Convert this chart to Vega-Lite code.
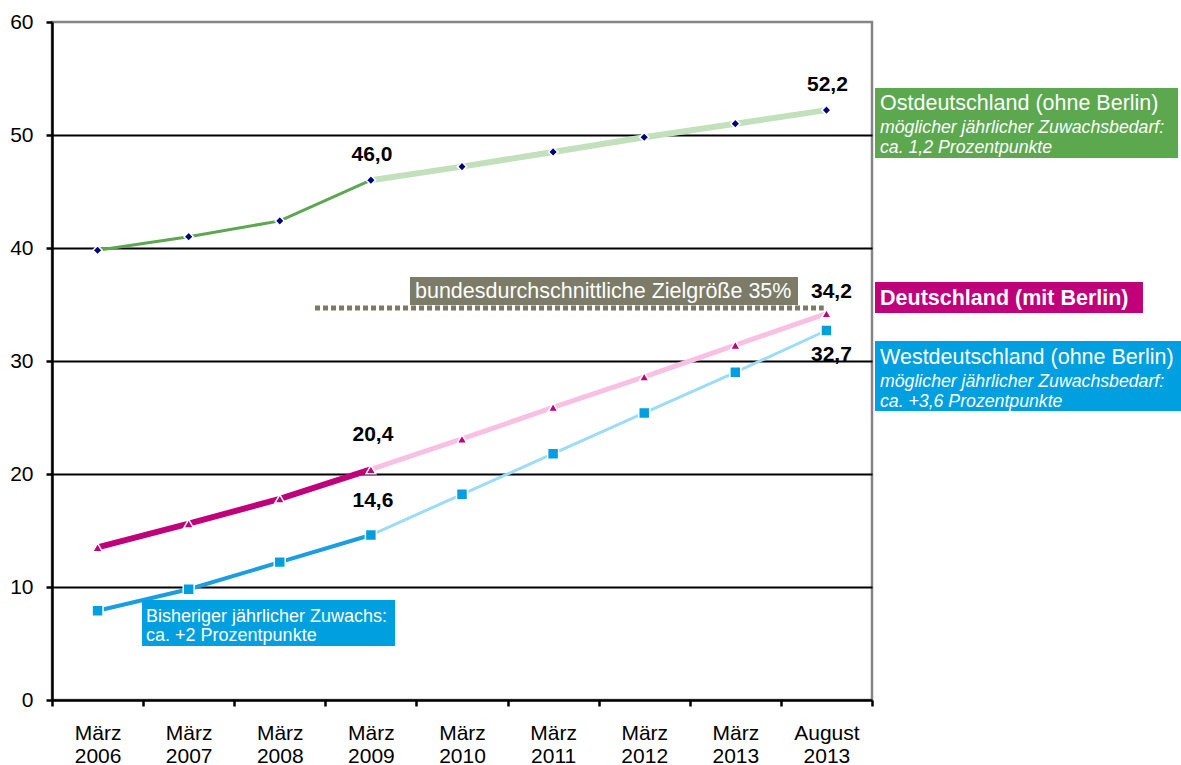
{
  "$schema": "https://vega.github.io/schema/vega-lite/v6.json",
  "width": 820,
  "height": 678,
  "autosize": {"type": "none"},
  "padding": {"left": 52, "top": 22, "right": 309, "bottom": 65},
  "background": "white",
  "config": {
    "font": "Liberation Sans",
    "view": {"stroke": "#858585", "strokeWidth": 2.5},
    "axis": {
      "domainColor": "black", "domainWidth": 2.5,
      "tickColor": "black", "tickWidth": 2.5, "tickSize": 6,
      "labelFont": "Liberation Sans", "labelFontSize": 21, "labelColor": "black",
      "gridColor": "black", "gridWidth": 2, "title": null
    }
  },
  "datasets": {
    "series": [
      {"s": "Ost", "i": 0, "v": 39.8},
      {"s": "Ost", "i": 1, "v": 41.0},
      {"s": "Ost", "i": 2, "v": 42.4},
      {"s": "Ost", "i": 3, "v": 46.0, "lab": "46,0"},
      {"s": "Ost", "i": 4, "v": 47.2},
      {"s": "Ost", "i": 5, "v": 48.5},
      {"s": "Ost", "i": 6, "v": 49.8},
      {"s": "Ost", "i": 7, "v": 51.0},
      {"s": "Ost", "i": 8, "v": 52.2, "lab": "52,2"},
      {"s": "DE", "i": 0, "v": 13.5},
      {"s": "DE", "i": 1, "v": 15.6},
      {"s": "DE", "i": 2, "v": 17.8},
      {"s": "DE", "i": 3, "v": 20.4, "lab": "20,4"},
      {"s": "DE", "i": 4, "v": 23.1},
      {"s": "DE", "i": 5, "v": 25.9},
      {"s": "DE", "i": 6, "v": 28.6},
      {"s": "DE", "i": 7, "v": 31.4},
      {"s": "DE", "i": 8, "v": 34.2, "lab": "34,2"},
      {"s": "West", "i": 0, "v": 7.9},
      {"s": "West", "i": 1, "v": 9.8},
      {"s": "West", "i": 2, "v": 12.2},
      {"s": "West", "i": 3, "v": 14.6, "lab": "14,6"},
      {"s": "West", "i": 4, "v": 18.2},
      {"s": "West", "i": 5, "v": 21.8},
      {"s": "West", "i": 6, "v": 25.4},
      {"s": "West", "i": 7, "v": 29.0},
      {"s": "West", "i": 8, "v": 32.7, "lab": "32,7"}
    ],
    "boxes": [
      {"k": "ost", "x": 8.533, "x2": 11.859, "y": 54.16, "y2": 47.96},
      {"k": "de", "x": 8.533, "x2": 11.474, "y": 36.99, "y2": 34.25},
      {"k": "west", "x": 8.533, "x2": 11.892, "y": 31.77, "y2": 25.58},
      {"k": "ziel", "x": 3.429, "x2": 7.688, "y": 37.43, "y2": 34.96},
      {"k": "inner", "x": 0.488, "x2": 3.265, "y": 8.85, "y2": 4.78}
    ],
    "notes": [
      {"g": "title", "x": 8.588, "y": 52.7, "t": "Ostdeutschland (ohne Berlin)"},
      {"g": "sub", "x": 8.588, "y": 50.62, "t": "möglicher jährlicher Zuwachsbedarf:"},
      {"g": "sub", "x": 8.588, "y": 48.85, "t": "ca. 1,2 Prozentpunkte"},
      {"g": "bold", "x": 8.588, "y": 35.5, "t": "Deutschland (mit Berlin)"},
      {"g": "title", "x": 8.588, "y": 30.27, "t": "Westdeutschland (ohne Berlin)"},
      {"g": "sub", "x": 8.588, "y": 28.14, "t": "möglicher jährlicher Zuwachsbedarf:"},
      {"g": "sub", "x": 8.588, "y": 26.37, "t": "ca. +3,6 Prozentpunkte"},
      {"g": "ziel", "x": 3.484, "y": 36.1, "t": "bundesdurchschnittliche Zielgröße 35%"},
      {"g": "inner", "x": 0.532, "y": 7.35, "t": "Bisheriger jährlicher Zuwachs:"},
      {"g": "inner", "x": 0.532, "y": 5.66, "t": "ca. +2 Prozentpunkte"}
    ],
    "target": [
      {"x": 2.387, "x2": 7.97, "y": 34.7}
    ]
  },
  "layer": [
    {
      "data": {"name": "series"},
      "transform": [{"filter": "datum.s == 'Ost' && datum.i <= 3"}],
      "mark": {"type": "line", "color": "#5ba84f", "strokeWidth": 3},
      "encoding": {
        "x": {
          "field": "i", "type": "quantitative",
          "scale": {"domain": [-0.5, 8.5], "nice": false, "zero": false},
          "axis": {
            "values": [-0.5, 0, 0.5, 1, 1.5, 2, 2.5, 3, 3.5, 4, 4.5, 5, 5.5, 6, 6.5, 7, 7.5, 8, 8.5],
            "grid": false,
            "labelExpr": "datum.value % 1 != 0 ? '' : (datum.value == 8 ? ['August', '2013'] : ['März', '' + (2006 + datum.value)])",
            "tickOpacity": {"condition": {"test": "datum.value % 1 != 0", "value": 1}, "value": 0},
            "labelPadding": 16,
            "labelLineHeight": 23,
            "labelOverlap": false,
            "labelFlush": false,
            "labelBound": false,
            "labelBaseline": "top"
          }
        },
        "y": {
          "field": "v", "type": "quantitative",
          "scale": {"domain": [0, 60], "nice": false},
          "axis": {
            "values": [0, 10, 20, 30, 40, 50, 60],
            "grid": true,
            "gridOpacity": {"condition": {"test": "datum.value == 0 || datum.value == 60", "value": 0}, "value": 1},
            "labelPadding": 13
          }
        }
      }
    },
    {
      "data": {"name": "series"},
      "transform": [{"filter": "datum.s == 'Ost' && datum.i >= 3"}],
      "mark": {"type": "line", "color": "#c2e0bb", "strokeWidth": 6},
      "encoding": {"x": {"field": "i", "type": "quantitative"}, "y": {"field": "v", "type": "quantitative"}}
    },
    {
      "data": {"name": "series"},
      "transform": [{"filter": "datum.s == 'DE' && datum.i <= 3"}],
      "mark": {"type": "line", "color": "#c0007a", "strokeWidth": 6},
      "encoding": {"x": {"field": "i", "type": "quantitative"}, "y": {"field": "v", "type": "quantitative"}}
    },
    {
      "data": {"name": "series"},
      "transform": [{"filter": "datum.s == 'DE' && datum.i >= 3"}],
      "mark": {"type": "line", "color": "#f8c0e2", "strokeWidth": 5},
      "encoding": {"x": {"field": "i", "type": "quantitative"}, "y": {"field": "v", "type": "quantitative"}}
    },
    {
      "data": {"name": "series"},
      "transform": [{"filter": "datum.s == 'West' && datum.i <= 3"}],
      "mark": {"type": "line", "color": "#1a9ee0", "strokeWidth": 4},
      "encoding": {"x": {"field": "i", "type": "quantitative"}, "y": {"field": "v", "type": "quantitative"}}
    },
    {
      "data": {"name": "series"},
      "transform": [{"filter": "datum.s == 'West' && datum.i >= 3"}],
      "mark": {"type": "line", "color": "#9bdcf7", "strokeWidth": 3},
      "encoding": {"x": {"field": "i", "type": "quantitative"}, "y": {"field": "v", "type": "quantitative"}}
    },
    {
      "data": {"name": "series"},
      "transform": [{"filter": "datum.s == 'Ost'"}],
      "mark": {"type": "point", "shape": "diamond", "filled": true, "fill": "#000080", "stroke": "white", "strokeWidth": 1.5, "size": 85, "opacity": 1},
      "encoding": {"x": {"field": "i", "type": "quantitative"}, "y": {"field": "v", "type": "quantitative"}}
    },
    {
      "data": {"name": "series"},
      "transform": [{"filter": "datum.s == 'DE'"}],
      "mark": {"type": "point", "shape": "triangle-up", "filled": true, "fill": "#c0007a", "stroke": "white", "strokeWidth": 1.5, "size": 95, "opacity": 1},
      "encoding": {"x": {"field": "i", "type": "quantitative"}, "y": {"field": "v", "type": "quantitative"}}
    },
    {
      "data": {"name": "series"},
      "transform": [{"filter": "datum.s == 'West'"}],
      "mark": {"type": "point", "shape": "square", "filled": true, "fill": "#009fdf", "stroke": "white", "strokeWidth": 1.5, "size": 120, "opacity": 1},
      "encoding": {"x": {"field": "i", "type": "quantitative"}, "y": {"field": "v", "type": "quantitative"}}
    },
    {
      "data": {"name": "target"},
      "mark": {"type": "rule", "color": "#7b7b62", "strokeWidth": 5, "strokeDash": [5, 3]},
      "encoding": {
        "x": {"field": "x", "type": "quantitative"},
        "x2": {"field": "x2"},
        "y": {"field": "y", "type": "quantitative"}
      }
    },
    {
      "data": {"name": "boxes"},
      "mark": {"type": "rect"},
      "encoding": {
        "x": {"field": "x", "type": "quantitative"},
        "x2": {"field": "x2"},
        "y": {"field": "y", "type": "quantitative"},
        "y2": {"field": "y2"},
        "color": {
          "field": "k", "type": "nominal", "legend": null,
          "scale": {"domain": ["ost", "de", "west", "ziel", "inner"], "range": ["#5ba84f", "#c0007a", "#009fdf", "#7b7b68", "#009fdf"]}
        },
        "opacity": {"value": 1}
      }
    },
    {
      "data": {"name": "notes"},
      "transform": [{"filter": "datum.g == 'title'"}],
      "mark": {"type": "text", "align": "left", "baseline": "middle", "color": "white", "fontSize": 21.5, "font": "Liberation Sans"},
      "encoding": {"x": {"field": "x", "type": "quantitative"}, "y": {"field": "y", "type": "quantitative"}, "text": {"field": "t"}}
    },
    {
      "data": {"name": "notes"},
      "transform": [{"filter": "datum.g == 'sub'"}],
      "mark": {"type": "text", "align": "left", "baseline": "middle", "color": "white", "fontSize": 17.7, "fontStyle": "italic", "font": "Liberation Sans"},
      "encoding": {"x": {"field": "x", "type": "quantitative"}, "y": {"field": "y", "type": "quantitative"}, "text": {"field": "t"}}
    },
    {
      "data": {"name": "notes"},
      "transform": [{"filter": "datum.g == 'bold'"}],
      "mark": {"type": "text", "align": "left", "baseline": "middle", "color": "white", "fontSize": 21.5, "fontWeight": "bold", "font": "Liberation Sans"},
      "encoding": {"x": {"field": "x", "type": "quantitative"}, "y": {"field": "y", "type": "quantitative"}, "text": {"field": "t"}}
    },
    {
      "data": {"name": "notes"},
      "transform": [{"filter": "datum.g == 'ziel'"}],
      "mark": {"type": "text", "align": "left", "baseline": "middle", "color": "white", "fontSize": 21.5, "font": "Liberation Sans"},
      "encoding": {"x": {"field": "x", "type": "quantitative"}, "y": {"field": "y", "type": "quantitative"}, "text": {"field": "t"}}
    },
    {
      "data": {"name": "notes"},
      "transform": [{"filter": "datum.g == 'inner'"}],
      "mark": {"type": "text", "align": "left", "baseline": "middle", "color": "white", "fontSize": 18, "font": "Liberation Sans"},
      "encoding": {"x": {"field": "x", "type": "quantitative"}, "y": {"field": "y", "type": "quantitative"}, "text": {"field": "t"}}
    },
    {
      "data": {"name": "series"},
      "transform": [{"filter": "datum.lab == '52,2' || datum.lab == '46,0'"}],
      "mark": {"type": "text", "align": "center", "baseline": "middle", "color": "black", "fontSize": 21, "fontWeight": "bold", "dx": 1, "dy": -25},
      "encoding": {"x": {"field": "i", "type": "quantitative"}, "y": {"field": "v", "type": "quantitative"}, "text": {"field": "lab"}}
    },
    {
      "data": {"name": "series"},
      "transform": [{"filter": "datum.lab == '20,4' || datum.lab == '14,6'"}],
      "mark": {"type": "text", "align": "center", "baseline": "middle", "color": "black", "fontSize": 21, "fontWeight": "bold", "dx": 2, "dy": -34},
      "encoding": {"x": {"field": "i", "type": "quantitative"}, "y": {"field": "v", "type": "quantitative"}, "text": {"field": "lab"}}
    },
    {
      "data": {"name": "series"},
      "transform": [{"filter": "datum.lab == '34,2'"}],
      "mark": {"type": "text", "align": "center", "baseline": "middle", "color": "black", "fontSize": 21, "fontWeight": "bold", "dx": 5, "dy": -22},
      "encoding": {"x": {"field": "i", "type": "quantitative"}, "y": {"field": "v", "type": "quantitative"}, "text": {"field": "lab"}}
    },
    {
      "data": {"name": "series"},
      "transform": [{"filter": "datum.lab == '32,7'"}],
      "mark": {"type": "text", "align": "center", "baseline": "middle", "color": "black", "fontSize": 21, "fontWeight": "bold", "dx": 5, "dy": 25},
      "encoding": {"x": {"field": "i", "type": "quantitative"}, "y": {"field": "v", "type": "quantitative"}, "text": {"field": "lab"}}
    }
  ]
}
